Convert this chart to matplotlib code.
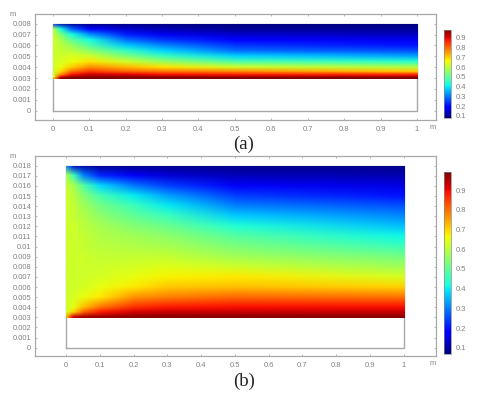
import numpy as np
import matplotlib
matplotlib.use("Agg")
import matplotlib.pyplot as plt
from matplotlib.image import NonUniformImage
from matplotlib.patches import Rectangle

W, H = 480, 399

# ---------- panel (a) data: columns = x, rows = y ----------
x_a = [0, 0.02, 0.05, 0.1, 0.2, 0.3, 0.5, 1.0]
y_a = [0.003, 0.0031, 0.0033, 0.0036, 0.004, 0.0045, 0.005, 0.0055, 0.006, 0.0065, 0.007, 0.0075, 0.008]
a_x000 = [.72, .65, .62, .62, .62, .62, .62, .62, .62, .62, .61, .59, .25]
a_x002 = [.96, .88, .76, .69, .65, .63, .62, .61, .60, .58, .53, .42, .12]
a_x005 = [.98, .95, .88, .79, .70, .65, .63, .60, .56, .50, .42, .28, .10]
a_x010 = [.98, .96, .92, .84, .76, .68, .62, .55, .48, .42, .32, .19, .08]
a_x020 = [.98, .96, .90, .80, .72, .62, .53, .45, .37, .29, .22, .14, .08]
a_x030 = [.98, .95, .88, .78, .68, .56, .46, .38, .31, .24, .17, .12, .08]
a_x050 = [.98, .94, .87, .76, .62, .48, .38, .29, .24, .19, .14, .10, .08]
a_x100 = [.98, .94, .86, .70, .58, .44, .34, .26, .21, .17, .13, .10, .08]
field_a = [a_x000, a_x002, a_x005, a_x010, a_x020, a_x030, a_x050, a_x100]

# ---------- panel (b) data ----------
x_b = [0, 0.02, 0.05, 0.1, 0.2, 0.3, 0.5, 1.0]
y_b = [.003, .0035, .004, .005, .006, .007, .008, .009, .01, .011, .012, .013, .014, .015, .016, .017, .018]
b_x000 = [.74, .63, .62, .62, .62, .62, .62, .62, .62, .62, .62, .62, .62, .62, .61, .58, .30]
b_x002 = [.92, .70, .65, .63, .62, .62, .62, .62, .62, .62, .62, .61, .61, .60, .58, .46, .14]
b_x005 = [.96, .81, .72, .65, .63, .62, .62, .62, .61, .61, .60, .59, .57, .54, .48, .30, .10]
b_x010 = [.97, .88, .79, .68, .65, .63, .62, .61, .60, .59, .58, .55, .52, .47, .38, .22, .08]
b_x020 = [.98, .92, .86, .76, .68, .65, .63, .61, .59, .57, .54, .50, .46, .40, .29, .17, .08]
b_x030 = [.98, .93, .88, .78, .71, .67, .64, .61, .58, .55, .51, .46, .40, .33, .24, .14, .08]
b_x050 = [.98, .93, .89, .80, .72, .68, .62, .57, .53, .49, .43, .37, .30, .24, .17, .12, .08]
b_x100 = [.98, .93, .89, .79, .70, .63, .57, .52, .46, .41, .36, .31, .26, .20, .15, .11, .08]
field_b = [b_x000, b_x002, b_x005, b_x010, b_x020, b_x030, b_x050, b_x100]

# ---------- tick labels ----------
xticks = [0, .1, .2, .3, .4, .5, .6, .7, .8, .9, 1]
xlabels = ['0', '0.1', '0.2', '0.3', '0.4', '0.5', '0.6', '0.7', '0.8', '0.9', '1']
yticks_a = [i / 1000 for i in range(0, 9)]
ylabels_a = ['0', '0.001', '0.002', '0.003', '0.004', '0.005', '0.006', '0.007', '0.008']
yticks_b = [i / 1000 for i in range(0, 19)]
ylabels_b = ['0', '0.001', '0.002', '0.003', '0.004', '0.005', '0.006', '0.007', '0.008', '0.009',
             '0.01', '0.011', '0.012', '0.013', '0.014', '0.015', '0.016', '0.017', '0.018']
cticks = [.1, .2, .3, .4, .5, .6, .7, .8, .9]
clabels = ['0.1', '0.2', '0.3', '0.4', '0.5', '0.6', '0.7', '0.8', '0.9']

TXT = '#808080'
EDGE = '#a8a8a8'
FS = 5.4
plt.rcParams['font.family'] = ['Liberation Sans', 'DejaVu Sans']

fig = plt.figure(figsize=(W / 100, H / 100), dpi=100, facecolor='white')


def box(l, t, r, b):
    return [l / W, 1 - b / H, (r - l) / W, (b - t) / H]


def panel(rect, xlim, ylim, xs, ys, field, yticks, ylabels, ytop, crect, crange, caption, capy):
    ax = fig.add_axes(box(*rect))
    z = np.array(field).T
    im = NonUniformImage(ax, interpolation='bilinear', cmap='jet',
                         extent=(xs[0], xs[-1], ys[0], ys[-1]), zorder=3)
    im.set_data(xs, ys, z)
    im.set_clim(*crange)
    ax.add_image(im)
    im.set_clip_path(Rectangle((xs[0], ys[0]), xs[-1] - xs[0], ys[-1] - ys[0], transform=ax.transData))
    ax.plot([0, 1, 1, 0, 0], [0, 0, ytop, ytop, 0], color=EDGE, lw=1.0, zorder=2, solid_joinstyle='miter')
    ax.set_xlim(*xlim)
    ax.set_ylim(*ylim)
    ax.set_xticks(xticks, xlabels)
    ax.set_yticks(yticks, ylabels)
    ax.tick_params(direction='in', length=1.5, width=0.6, color=EDGE, labelcolor=TXT, labelsize=FS,
                   top=True, right=True, pad=2.5)
    ax.tick_params(axis='x', pad=4)
    for s in ax.spines.values():
        s.set_color(EDGE)
        s.set_linewidth(0.9)
    fig.text(436 / W, 1 - (rect[3] + 7.5) / H, 'm', color=TXT, fontsize=FS, ha='right', va='center')
    fig.text(16 / W, 1 - (rect[1] + 1) / H, 'm', color=TXT, fontsize=FS, ha='right', va='center')
    cax = fig.add_axes(box(*crect))
    cb = fig.colorbar(im, cax=cax, ticks=cticks)
    cb.ax.set_yticklabels(clabels)
    cb.ax.tick_params(length=0, labelcolor=TXT, labelsize=FS, pad=3)
    cb.outline.set_edgecolor('#888888')
    cb.outline.set_linewidth(0.5)
    fig.text(244 / W, 1 - capy / H, caption, family='Liberation Serif', fontsize=13.5, color='#222222',
             ha='center', va='center')


panel((34.7, 13.7, 435.7, 120), (-0.0494, 1.0513), (-0.000855, 0.00892), x_a, y_a, field_a,
      yticks_a, ylabels_a, 0.008, (444.3, 30, 451.3, 117.7), (0.08, 0.98), '(a)', 144)
panel((34.7, 156, 435.7, 356), (-0.0927, 1.0948), (-0.00082, 0.01896), x_b, y_b, field_b,
      yticks_b, ylabels_b, 0.018, (444.3, 172.3, 451.3, 353.7), (0.07, 0.99), '(b)', 381.5)

fig.savefig('out.png', dpi=100, facecolor='white')
